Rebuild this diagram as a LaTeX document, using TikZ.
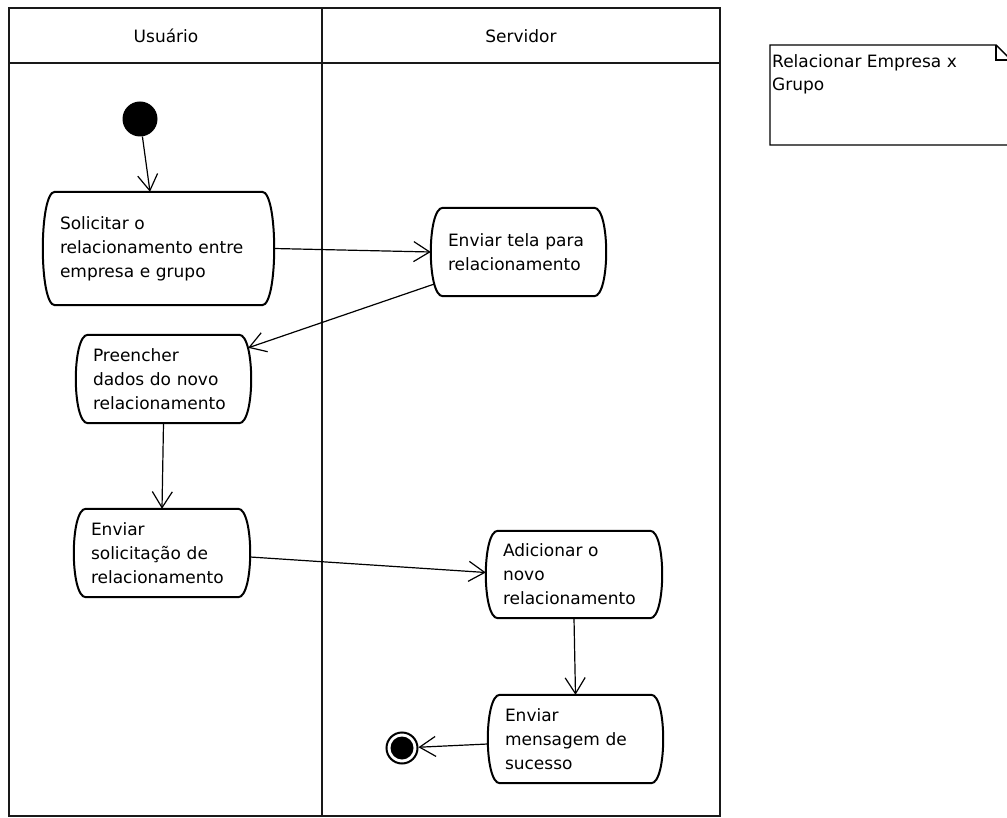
\documentclass[tikz,border=0pt]{standalone}
\usepackage{fontspec}
\setmainfont{DejaVu Sans}
\usetikzlibrary{arrows.meta}

\begin{document}
\begin{tikzpicture}[x=1pt,y=-1pt,
  lane/.style={line width=2.4pt, draw=black!90},
  hdr/.style={font=\fontsize{17}{22}\selectfont, inner sep=0pt},
  action/.style={inner xsep=17pt, inner ysep=0pt, align=left,
                 font=\fontsize{17}{24}\selectfont},
  actedge/.style={line width=2pt, line join=round},
  flow/.style={line width=1.2pt, -{Straight Barb[length=16pt,width=20pt]}},
  startnode/.style={circle, fill=black, minimum size=35pt, inner sep=0pt},
  endnode/.style={circle, draw, line width=2pt, minimum size=31pt, inner sep=0pt,
                  path picture={\fill (path picture bounding box.center) circle (11.5pt);}},
  notebox/.style={line width=1.4pt, line join=miter},
  notetxt/.style={font=\fontsize{17}{23}\selectfont, inner sep=0pt, align=left}
]
\fill[white] (0,0) rectangle (1007,818);
\clip (0,0) rectangle (1007,818);

% swimlane frame
\draw[lane] (9,8) rectangle (720,816);
\draw[lane] (9,63) -- (720,63);
\draw[lane] (322,8) -- (322,816);
\node[hdr] (laneU) at (166,36) {Usuário};
\node[hdr] (laneS) at (521,36) {Servidor};

% note
\draw[notebox] (770,45) -- (996,45) -- (1011,60) -- (1011,145) -- (770,145) -- cycle;
\draw[notebox] (996,45) |- (1011,60);
\node[notetxt, anchor=north west] (note) at (772,54) {Relacionar Empresa x\\Grupo};

% actions
\node[action, text width=197pt, minimum height=113pt] (a1) at (158.5,248.5)
  {Solicitar~o\\relacionamento~entre\\empresa~e~grupo};
\node[action, text width=141pt, minimum height=88pt] (a2) at (518.5,252)
  {Enviar~tela~para\\relacionamento};
\node[action, text width=141pt, minimum height=88pt] (a3) at (163.5,379)
  {Preencher\\dados~do~novo\\relacionamento};
\node[action, text width=142pt, minimum height=88pt] (a4) at (162,553)
  {Enviar\\solicitação~de\\relacionamento};
\node[action, text width=142pt, minimum height=87pt] (a5) at (574,574.5)
  {Adicionar~o\\novo\\relacionamento};
\node[action, text width=141pt, minimum height=88pt] (a6) at (575.5,739)
  {Enviar\\mensagem~de\\sucesso};

\foreach \n in {a1,a2,a3,a4,a5,a6}
  \draw[actedge] ([xshift=12pt]\n.north west) -- ([xshift=-12pt]\n.north east)
    .. controls ([xshift=4pt]\n.north east) and ([xshift=4pt]\n.south east) ..
    ([xshift=-12pt]\n.south east) -- ([xshift=12pt]\n.south west)
    .. controls ([xshift=-4pt]\n.south west) and ([xshift=-4pt]\n.north west) ..
    cycle;

% initial and final nodes
\node[startnode] (init) at (140,119) {};
\node[endnode] (final) at (402,748) {};

% control flow
\draw[flow] (init) -- ([xshift=-8.5pt]a1.north);
\draw[flow] (a1.east) -- (a2.west);
\draw[flow] ([xshift=3pt,yshift=12pt]a2.south west) -- ([xshift=-3pt,yshift=-13pt]a3.north east);
\draw[flow] (a3.south) -- (a4.north);
\draw[flow] ([yshift=-4pt]a4.east) -- ([yshift=2pt]a5.west);
\draw[flow] (a5.south) -- (a6.north);
\draw[flow] ([yshift=-5pt]a6.west) -- (final);
\end{tikzpicture}
\end{document}
